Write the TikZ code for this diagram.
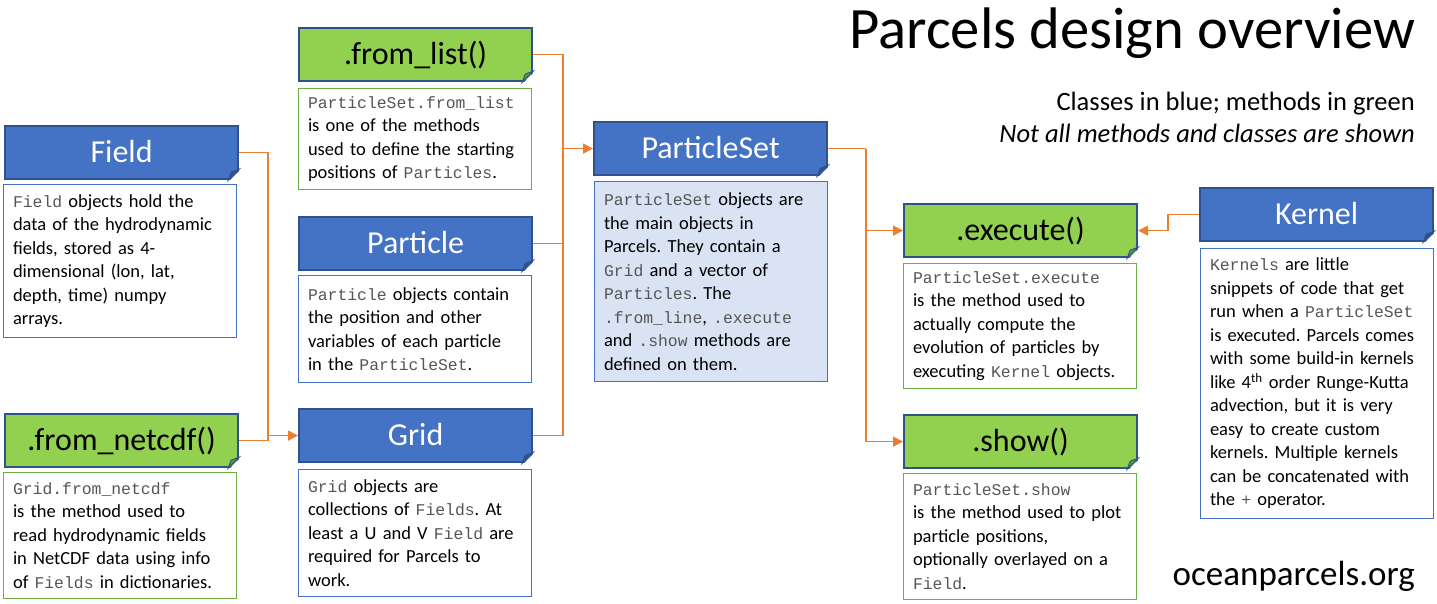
\documentclass[tikz,border=0pt]{standalone}
\usepackage{fontspec}
\setmainfont{Carlito}
\newfontfamily\monofont{Liberation Mono}
\usepackage{tikz}
\usetikzlibrary{arrows.meta,positioning}

\definecolor{clsfill}{HTML}{4472C4}
\definecolor{clsedge}{HTML}{2F528F}
\definecolor{mthfill}{HTML}{92D050}
\definecolor{mthedge}{HTML}{70AD47}
\definecolor{mthfold}{HTML}{5E9A3C}
\definecolor{psetfill}{HTML}{DAE3F3}
\definecolor{linkcol}{HTML}{ED7D31}
\definecolor{codegray}{HTML}{555555}

\newcommand{\code}[1]{{\monofont\fontsize{16.4}{23.5}\selectfont\color{codegray}#1}}

\tikzset{
  head/.style={draw=clsedge, line width=2.2pt, anchor=north west, minimum width=233, minimum height=53,
    inner sep=0pt, text height=20.6, text depth=0, font=\fontsize{32}{36}\selectfont},
  clshead/.style={head, fill=clsfill, text=white},
  mthhead/.style={head, fill=mthfill, text=black},
  desc/.style={draw, line width=1pt, anchor=north west, minimum width=233, text width=214,
    inner xsep=9.5, inner ysep=0pt, align=left, font=\fontsize{18.5}{23.5}\selectfont\frenchspacing},
  clsdesc/.style={desc, draw=clsfill},
  mthdesc/.style={desc, draw=mthedge},
  link/.style={draw=linkcol, line width=1.5pt},
  arrowlink/.style={link, -{Triangle[length=10pt,width=10pt]}},
}

\begin{document}
\begin{tikzpicture}[x=1pt, y=-1pt]
\useasboundingbox (0,0) rectangle (1437,603);

% title
\node[anchor=base east, inner sep=0pt, font=\fontsize{58.6}{60}\selectfont] (title) at (1415,48) {Parcels design overview};
\node[anchor=base east, inner sep=0pt, font=\fontsize{26.5}{30}\selectfont] (legend) at (1415,110) {Classes in blue; methods in green};
\node[anchor=base east, inner sep=0pt, font=\fontsize{26.5}{30}\selectfont\itshape] (note) at (1415,142) {Not all methods and classes are shown};
\node[anchor=base east, inner sep=0pt, font=\fontsize{35}{40}\selectfont] (url) at (1415,585) {oceanparcels.org};

% left column
\node[clshead] (field) at (4,125) {Field};
\node[clsdesc, minimum height=153] (fielddesc) at (3,184) {\code{Field} objects hold the\\ data of the hydrodynamic\\ fields, stored as 4-\\ dimensional (lon, lat,\\ depth, time) numpy\\ arrays.};
\node[mthhead] (fromnetcdf) at (4,413) {.from\_netcdf()};
\node[mthdesc, minimum height=126] (fromnetcdfdesc) at (3,472) {\code{Grid.from\_netcdf}\\ is the method used to\\ read hydrodynamic fields\\ in NetCDF data using info\\ of \code{Fields} in dictionaries.};

% second column
\node[mthhead] (fromlist) at (298,27) {.from\_list()};
\node[mthdesc, minimum height=101] (fromlistdesc) at (298,88) {\code{ParticleSet.from\_list}\\ is one of the methods\\ used to define the starting\\ positions of \code{Particles}.};
\node[clshead] (particle) at (298,216) {Particle};
\node[clsdesc, minimum height=107] (particledesc) at (298,275) {\code{Particle} objects contain\\ the position and other\\ variables of each particle\\ in the \code{ParticleSet}.};
\node[clshead] (grid) at (298,408) {Grid};
\node[clsdesc, minimum height=127] (griddesc) at (298,469) {\code{Grid} objects are\\ collections of \code{Fields}. At\\ least a U and V \code{Field} are\\ required for Parcels to\\ work.};

% third column
\node[clshead] (pset) at (593,121) {ParticleSet};
\node[clsdesc, fill=psetfill, minimum height=200] (psetdesc) at (594,181) {\code{ParticleSet} objects are\\ the main objects in\\ Parcels. They contain a\\ \code{Grid} and a vector of\\ \code{Particles}. The\\ \code{.from\_line}, \code{.execute}\\ and \code{.show} methods are\\ defined on them.};

% fourth column
\node[mthhead] (execute) at (903,203) {.execute()};
\node[mthdesc, minimum height=125] (executedesc) at (903,263) {\code{ParticleSet.execute}\\ is the method used to\\ actually compute the\\ evolution of particles by\\ executing \code{Kernel} objects.};
\node[mthhead] (show) at (903,414) {.show()};
\node[mthdesc, minimum height=126] (showdesc) at (903,473) {\code{ParticleSet.show}\\ is the method used to plot\\ particle positions,\\ optionally overlayed on a\\ \code{Field}.};

% right column
\node[clshead] (kernel) at (1199,187) {Kernel};
\node[clsdesc, minimum height=270] (kerneldesc) at (1200,248) {\code{Kernels} are little\\ snippets of code that get\\ run when a \code{ParticleSet}\\ is executed. Parcels comes\\ with some build-in kernels\\ like 4\textsuperscript{th} order Runge-Kutta\\ advection, but it is very\\ easy to create custom\\ kernels. Multiple kernels\\ can be concatenated with\\ the \code{+} operator.};

% folded corners
\foreach \n/\c in {field/clsedge, particle/clsedge, grid/clsedge, pset/clsedge, kernel/clsedge,
                   fromnetcdf/mthfold, fromlist/mthfold, execute/mthfold, show/mthfold}{
  \fill[white] ([xshift=-11,yshift=-2]\n.south east) -- ([xshift=2,yshift=-2]\n.south east)
    -- ([xshift=2,yshift=11]\n.south east) -- cycle;
  \filldraw[fill=\c, draw=clsedge, line width=1pt] ([xshift=-11]\n.south east)
    -- ([yshift=11]\n.south east) -- ([xshift=-8,yshift=8]\n.south east) -- cycle;
}

% connectors
\path (grid.west) ++(-30,0) coordinate (jgrid);
\path (pset.west) ++(-30,0) coordinate (jpset);
\path (pset.east) ++(38,0) coordinate (jmeth);
\draw[link] (field.east) -| (jgrid);
\draw[link] (fromnetcdf.east) -| (jgrid);
\draw[arrowlink] (jgrid) -- (grid.west);
\draw[link] (fromlist.east) -| (jpset);
\draw[link] (particle.east) -| (jpset);
\draw[link] (grid.east) -| (jpset);
\draw[arrowlink] (jpset) -- (pset.west);
\draw[link] (pset.east) -- (jmeth);
\draw[arrowlink] (jmeth) |- (execute.west);
\draw[arrowlink] (jmeth) |- (show.west);
\draw[arrowlink] (kernel.west) -- ++(-31,0) |- (execute.east);
\end{tikzpicture}
\end{document}
